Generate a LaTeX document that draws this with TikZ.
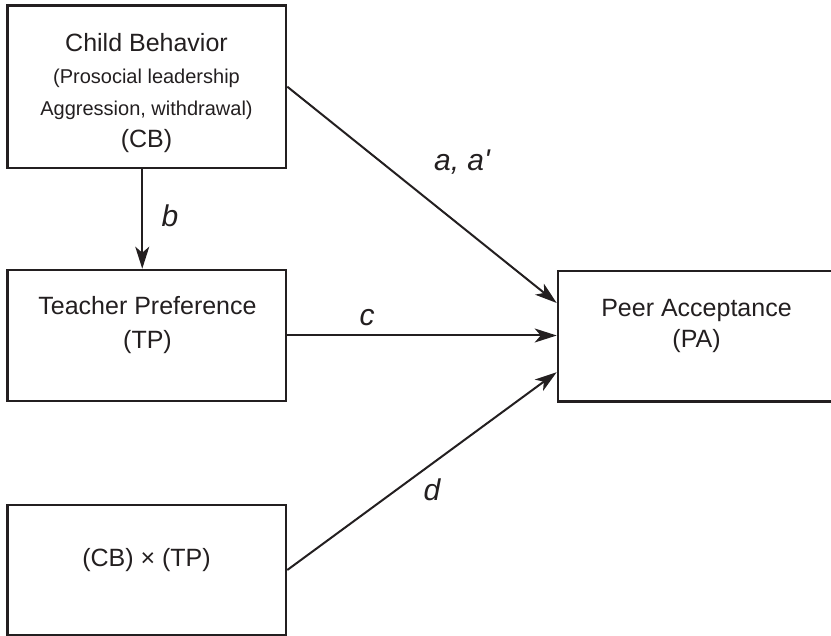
\documentclass[tikz,border=0pt]{standalone}
\usepackage{fontspec}
\setmainfont{Liberation Sans}
\usepackage{xcolor}
\usetikzlibrary{arrows.meta, positioning, calc}
\definecolor{ink}{HTML}{231F20}

\tikzset{
  box/.style={draw=ink, line width=2.6pt, minimum width=278.5pt, inner sep=0pt},
  txt/.style={ink, inner sep=0pt, align=center, font=\fontsize{25}{32}\selectfont},
  coef/.style={ink, inner sep=0pt, font=\fontsize{30}{32}\selectfont\itshape},
  path/.style={draw=ink, line width=2pt, -{Stealth[length=22pt, width=14pt, inset=6pt]}}
}

\begin{document}
\begin{tikzpicture}[x=1pt, y=-1pt]
\useasboundingbox (0,0) rectangle (831,636);

% Boxes
\node[box, minimum height=162.7pt] (cb) at (146.75,86.7) {};
\node[box, minimum height=131pt] (tp) at (146.75,335.5) {};
\node[box, minimum height=130pt] (cbtp) at (146.75,570) {};
% PA runs off the right edge
\node[box, minimum width=342pt, minimum height=130.5pt] (pa) at (729,336.25) {};

% Box texts
\node[txt] (cbtext) at (146.5,93.4) {Child Behavior\\{\fontsize{20}{32}\selectfont (Prosocial leadership}\\{\fontsize{20}{32}\selectfont Aggression, withdrawal)}\\(CB)};
\node[txt, font=\fontsize{25}{34}\selectfont] (tptext) at (147.5,325.5) {Teacher Preference\\(TP)};
\node[txt] (cbtptext) at (146.5,560.5) {(CB) × (TP)};
\node[txt, font=\fontsize{25}{31}\selectfont] (patext) at (696.5,326.2) {Peer Acceptance\\(PA)};

% Ends on the left side of PA
\coordinate (pa-a) at ($(pa.north west)!0.25!(pa.south west)$);
\coordinate (pa-d) at ($(pa.north west)!0.77!(pa.south west)$);

% Paths
\draw[path] (cb.east) -- (pa-a);
\draw[path] ([xshift=-4.5pt]cb.south) -- ([xshift=-4.5pt]cb.south |- tp.north);
\draw[path] (tp.east) -- (tp.east -| pa.west);
\draw[path] (cbtp.east) -- (pa-d);

% Coefficients
\node[coef] (la) at (462,162) {a, a\textquotesingle};
\node[coef] (lb) at (170,216) {b};
\node[coef] (lc) at (367,318) {c};
\node[coef] (ld) at (432,490) {d};
\end{tikzpicture}
\end{document}
